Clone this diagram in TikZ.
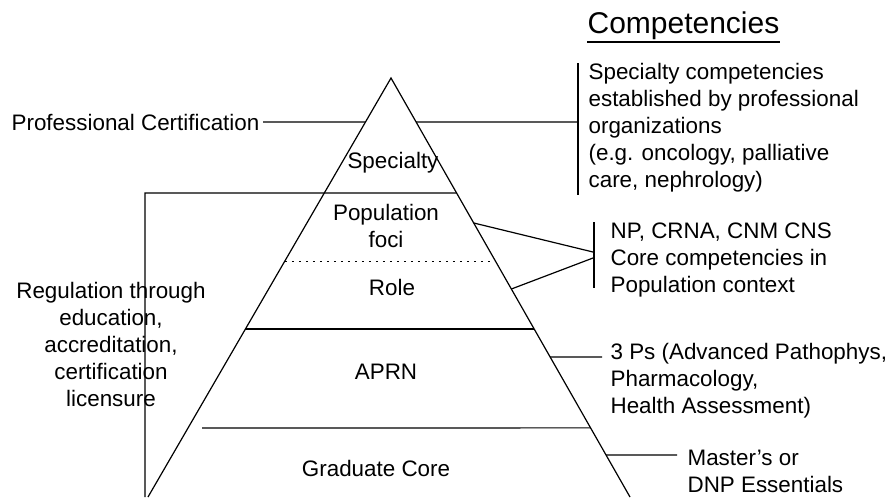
\documentclass[tikz,border=0pt]{standalone}
\usepackage{fontspec}
\setmainfont{Liberation Sans}
\usetikzlibrary{calc}
\begin{document}
\begin{tikzpicture}[x=1pt,y=-1pt,line width=1.2pt,
  txt/.style={font=\fontsize{22.4}{27}\selectfont,inner sep=0pt},
  dotline/.style={line width=1pt,dash pattern=on 2pt off 5pt}]
\useasboundingbox (0,0) rectangle (892,499);
% pyramid
\coordinate (A) at (391,78);
\coordinate (BL) at (148,497);
\coordinate (BR) at (630,497);
\draw (BL) -- (A) -- (BR);
% points on the edges
\coordinate (L122) at ($(A)!0.105!(BL)$);
\coordinate (R122) at ($(A)!0.105!(BR)$);
\coordinate (R193) at ($(A)!0.2745!(BR)$);
\coordinate (R223) at ($(A)!0.346!(BR)$);
\coordinate (L261) at ($(A)!0.4368!(BL)$);
\coordinate (R261) at ($(A)!0.4368!(BR)$);
\coordinate (R289) at ($(A)!0.5036!(BR)$);
\coordinate (L329) at ($(A)!0.599!(BL)$);
\coordinate (R329) at ($(A)!0.599!(BR)$);
\coordinate (R357) at ($(A)!0.666!(BR)$);
\coordinate (R428) at ($(A)!0.835!(BR)$);
\coordinate (R455) at ($(A)!0.8998!(BR)$);
% layer dividers
\coordinate (LB1) at (145,193);
\coordinate (LB2) at (145,497);
\draw (LB2) -- (LB1) -- (R193);
\draw[dotline] (L261) -- (R261);
\draw (L329) -- (R329);
\coordinate (G428) at (202,428);
\draw (G428) -- (R428);
% pyramid labels
\node[txt] (spec) at (393,163) {Specialty};
\node[txt,align=center] (pop) at (386,226) {Population\\foci};
\node[txt] (role) at (392,287) {Role};
\node[txt] (aprn) at (386,372) {APRN};
\node[txt] (grad) at (376,468) {Graduate Core};
% left labels
\node[txt,anchor=east] (pc) at (260,122) {Professional Certification};
\draw (pc.east) ++(3,0) coordinate (pcE) -- (L122);
\node[txt,align=center] (reg) at (111,344) {Regulation through\\education,\\accreditation,\\certification\\licensure};
% title
\node[font=\fontsize{30}{36}\selectfont,inner sep=0pt,anchor=west] (title) at (587,26) {Competencies};
\draw[line width=1.3pt] ($(title.south west)+(0,1.5)$) -- ($(title.south east)+(0,1.5)$);
% specialty competencies
\coordinate (SBt) at (578,63);
\coordinate (SBb) at (578,195);
\coordinate (SBm) at (578,122);
\draw (SBt) -- (SBb);
\draw (R122) -- (SBm);
\node[txt,anchor=west,align=left] (scomp) at (588,128) {Specialty competencies\\established by professional\\organizations\\(e.g. oncology, palliative\\care, nephrology)};
% NP block
\coordinate (NBt) at (594,222);
\coordinate (NBb) at (594,288);
\coordinate (NB1) at (593,252);
\coordinate (NB2) at (593,258);
\draw (NBt) -- (NBb);
\draw (R223) -- (NB1);
\draw (R289) -- (NB2);
\node[txt,anchor=west,align=left] (np) at (610,260) {NP, CRNA, CNM CNS\\Core competencies in\\Population context};
% 3 Ps block
\coordinate (P3) at (602,357);
\draw (R357) -- (P3);
\node[txt,anchor=west,align=left] (ps) at (610,381) {3 Ps (Advanced Pathophys,\\Pharmacology,\\Health Assessment)};
% Master's block
\coordinate (MS) at (677,455);
\draw (R455) -- (MS);
\node[txt,anchor=west,align=left] (ms) at (687,471) {Master's or\\DNP Essentials};
\end{tikzpicture}
\end{document}
